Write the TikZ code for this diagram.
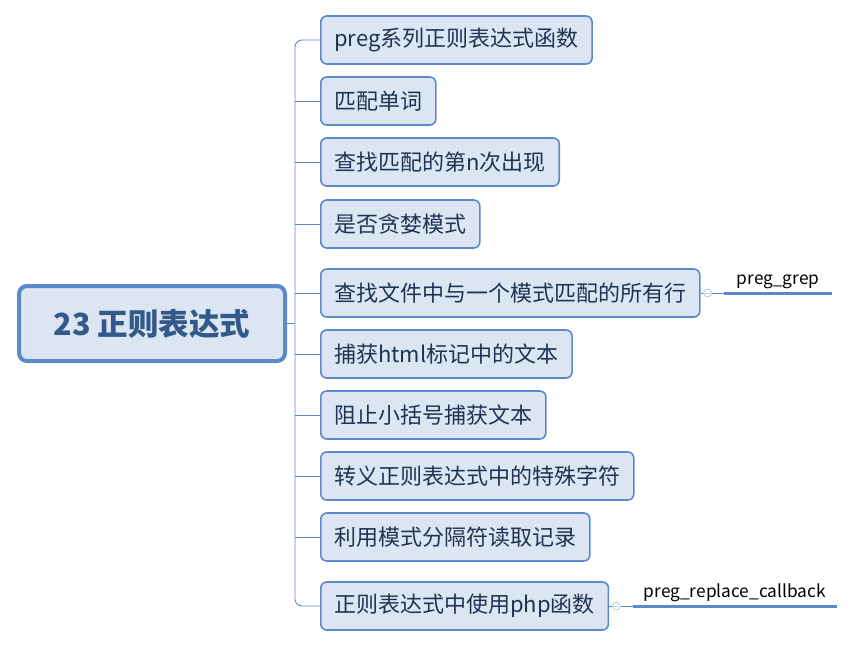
\documentclass[tikz,border=0pt]{standalone}
\usepackage{fontspec}
\setmainfont{Noto Sans CJK SC}
\usetikzlibrary{calc}
\definecolor{topicfill}{HTML}{DCE6F2}
\definecolor{topicline}{HTML}{5A8ACB}
\definecolor{topictext}{HTML}{1F3352}
\definecolor{roottext}{HTML}{33598A}
\definecolor{foldline}{HTML}{AFC4E2}
\tikzset{
  roottopic/.style={draw=topicline, line width=4pt, fill=topicfill, rounded corners=8pt,
    minimum width=266pt, minimum height=75pt, text=roottext,
    font=\fontsize{30.5}{36}\selectfont\bfseries},
  subtopic/.style={draw=topicline, line width=1.6pt, fill=topicfill, rounded corners=6pt,
    anchor=west, inner xsep=13.5pt, minimum height=48pt, text=topictext,
    font=\fontsize{22}{26}\selectfont},
  leaf/.style={anchor=south west, inner xsep=0pt, inner ysep=4pt, text=black,
    font=\fontsize{17.3}{20}\selectfont},
  leafline/.style={draw=topicline, line width=3pt},
  conn/.style={draw=topicline, line width=0.9pt},
  fold/.style={circle, draw=foldline, fill=white, line width=0.8pt, minimum size=8pt, inner sep=0pt},
}
\begin{document}
\begin{tikzpicture}[x=1pt, y=-1pt]
\useasboundingbox (0,0) rectangle (856,648);

% central topic
\node[roottopic] (root) at (152,323.5) {23 正则表达式};

% main branches
\node[subtopic] (c1)  at (320,40)  {preg系列正则表达式函数};
\node[subtopic] (c2)  at (320,101) {匹配单词};
\node[subtopic] (c3)  at (320,162) {查找匹配的第n次出现};
\node[subtopic] (c4)  at (320,224) {是否贪婪模式};
\node[subtopic] (c5)  at (320,293) {查找文件中与一个模式匹配的所有行};
\node[subtopic] (c6)  at (320,354) {捕获html标记中的文本};
\node[subtopic] (c7)  at (320,415) {阻止小括号捕获文本};
\node[subtopic] (c8)  at (320,476) {转义正则表达式中的特殊字符};
\node[subtopic] (c9)  at (320,537) {利用模式分隔符读取记录};
\node[subtopic] (c10) at (320,606) {正则表达式中使用php函数};

% trunk line shared by all branches
\coordinate (trunk) at (295,323.5);
\draw[conn] (root.east) -- (trunk);
\draw[conn, rounded corners=7pt] (c1.west) -| (trunk) |- (c10.west);
\foreach \i in {2,...,9} {
  \draw[conn] (c\i.west) -- (c\i.west -| trunk);
}

% detail leaves
\node[fold] (f5) at ($(c5.east)+(7,0)$) {};
\draw[foldline, line width=0.7pt] ($(f5.center)+(-2.2,0)$) -- ($(f5.center)+(2.2,0)$);
\node[leaf, minimum width=108pt] (l5) at ($(f5.east)+(12,0)$) {preg\_grep};
\draw[conn] (c5.east) -- (f5.west);
\draw[conn] (f5.east) -- (l5.south west);
\draw[leafline] (l5.south west) -- (l5.south east);

\node[fold] (f10) at ($(c10.east)+(7,0)$) {};
\draw[foldline, line width=0.7pt] ($(f10.center)+(-2.2,0)$) -- ($(f10.center)+(2.2,0)$);
\node[leaf, minimum width=204pt] (l10) at ($(f10.east)+(12,0)$) {preg\_replace\_callback};
\draw[conn] (c10.east) -- (f10.west);
\draw[conn] (f10.east) -- (l10.south west);
\draw[leafline] (l10.south west) -- (l10.south east);
\end{tikzpicture}
\end{document}
